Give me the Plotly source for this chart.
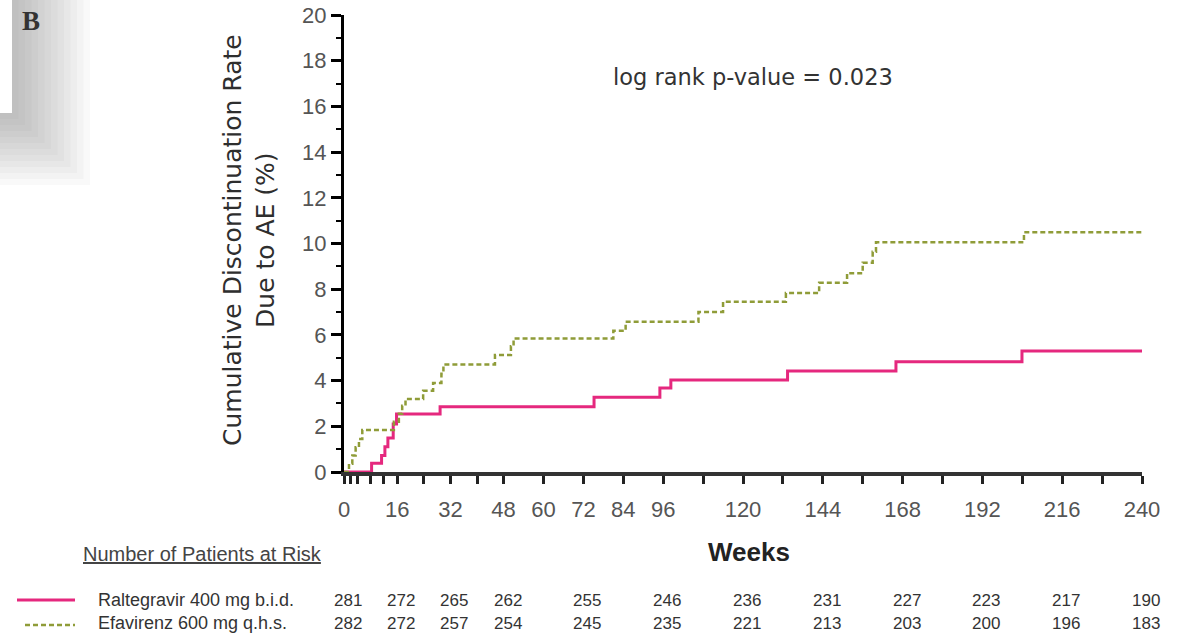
import plotly.graph_objects as go

# ---------------- data ----------------
ral_weeks = [0, 8.3, 11.3, 12.3, 13.2, 14.8, 15.8, 28.9, 75.2, 95.0, 98.3, 133.4, 166.0, 203.9, 240]
ral_rate = [0, 0.38, 0.72, 1.1, 1.49, 2.1, 2.54, 2.86, 3.27, 3.68, 4.03, 4.42, 4.83, 5.3, 5.3]

efv_weeks = [0, 1.5, 2.5, 3.5, 4.5, 5.5, 15.0, 16.5, 17.5, 18.5, 23.8, 26.8, 29.3, 29.9,
             45.4, 50.2, 51.0, 81.0, 84.7, 106.6, 114.0, 132.9, 142.9, 151.3, 156.0,
             159.0, 160.0, 204.5, 240]
efv_rate = [0, 0.36, 0.72, 1.08, 1.44, 1.84, 2.2, 2.55, 2.9, 3.2, 3.56, 3.9, 4.3, 4.71,
            5.12, 5.5, 5.84, 6.18, 6.58, 7.0, 7.45, 7.83, 8.28, 8.7, 9.16,
            9.64, 10.05, 10.49, 10.49]

x_tick_marks = [0, 2, 4, 8, 12, 16, 24, 32, 40, 48, 60, 72, 84, 96, 108, 120, 132, 144,
                156, 168, 180, 192, 204, 216, 228, 240]
x_tick_labels = [0, 16, 32, 48, 60, 72, 84, 96, 120, 144, 168, 192, 216, 240]
y_tick_vals = [0, 2, 4, 6, 8, 10, 12, 14, 16, 18, 20]

risk_weeks = [0, 16, 32, 48, 72, 96, 120, 144, 168, 192, 216, 240]
risk_ral = [281, 272, 265, 262, 255, 246, 236, 231, 227, 223, 217, 190]
risk_efv = [282, 272, 257, 254, 245, 235, 221, 213, 203, 200, 196, 183]

ral_name = "Raltegravir 400 mg b.i.d."
efv_name = "Efavirenz 600 mg q.h.s."

# ---------------- layout geometry ----------------
W, H = 1179, 634
L, R, T, B = 344, 37, 15, 162
PW = W - L - R
PH = H - T - B


def px(X):
    return (X - L) / PW


def py(Y):
    return (H - B - Y) / PH


PINK = "#e5287e"
OLIVE = "#8f9c38"

fig = go.Figure()
fig.add_trace(go.Scatter(x=ral_weeks, y=ral_rate, mode="lines", line_shape="hv",
                         line=dict(color=PINK, width=3), name=ral_name,
                         showlegend=False, cliponaxis=False))
fig.add_trace(go.Scatter(x=efv_weeks, y=efv_rate, mode="lines", line_shape="hv",
                         line=dict(color=OLIVE, width=2.5, dash="5px,3px"), name=efv_name,
                         showlegend=False, cliponaxis=False))

shapes = []
# scan shadow at the top-left corner
n = 12
for k in range(n, 0, -1):
    shapes.append(dict(type="rect", xref="paper", yref="paper",
                       x0=px(0), x1=px(12 + 6.5 * k), y0=py(0), y1=py(113 + 6.0 * k),
                       line=dict(width=0), fillcolor="rgba(90,90,90,0.04)", layer="below"))
shapes.append(dict(type="rect", xref="paper", yref="paper",
                   x0=px(0), x1=px(12), y0=py(0), y1=py(113),
                   line=dict(width=0), fillcolor="white", layer="below"))
# at-risk table legend lines
shapes.append(dict(type="line", xref="paper", yref="paper",
                   x0=px(17), x1=px(75), y0=py(600), y1=py(600),
                   line=dict(color=PINK, width=3)))
shapes.append(dict(type="line", xref="paper", yref="paper",
                   x0=px(25), x1=px(75), y0=py(625), y1=py(625),
                   line=dict(color=OLIVE, width=2.5, dash="5px,3px")))

ann = []
ann.append(dict(text="<b>B</b>", xref="paper", yref="paper", x=px(31), y=py(21),
                xanchor="center", yanchor="middle", showarrow=False,
                font=dict(family="Liberation Serif, Times New Roman, serif", size=27, color="#333")))
ann.append(dict(text="Cumulative Discontinuation Rate<br>Due to AE (%)", xref="paper", yref="paper",
                x=px(249), y=py(240), xanchor="center", yanchor="middle", textangle=-90,
                showarrow=False,
                font=dict(family="DejaVu Sans, sans-serif", size=25, color="#2e2e2e")))
ann.append(dict(text="log rank p-value = 0.023", xref="paper", yref="paper",
                x=px(753), y=py(77), xanchor="center", yanchor="middle", showarrow=False,
                font=dict(family="DejaVu Sans, sans-serif", size=22.5, color="#333")))
ann.append(dict(text="<b>Weeks</b>", xref="paper", yref="paper",
                x=px(749), y=py(552), xanchor="center", yanchor="middle", showarrow=False,
                font=dict(family="Liberation Sans, Arial, sans-serif", size=26, color="#222")))
ann.append(dict(text="<u>Number of Patients at Risk</u>", xref="paper", yref="paper",
                x=px(202), y=py(554), xanchor="center", yanchor="middle", showarrow=False,
                font=dict(family="Liberation Sans, Arial, sans-serif", size=20, color="#444")))
ann.append(dict(text=ral_name, xref="paper", yref="paper",
                x=px(96), y=py(600), xanchor="left", yanchor="middle", showarrow=False,
                font=dict(family="Liberation Sans, Arial, sans-serif", size=18, color="#333")))
ann.append(dict(text=efv_name, xref="paper", yref="paper",
                x=px(96), y=py(623), xanchor="left", yanchor="middle", showarrow=False,
                font=dict(family="Liberation Sans, Arial, sans-serif", size=18, color="#333")))
for wk, a, b in zip(risk_weeks, risk_ral, risk_efv):
    ann.append(dict(text=str(a), xref="x", yref="paper", x=wk, xshift=4, y=py(600),
                    xanchor="center", yanchor="middle", showarrow=False,
                    font=dict(family="Liberation Sans, Arial, sans-serif", size=17, color="#333")))
    ann.append(dict(text=str(b), xref="x", yref="paper", x=wk, xshift=4, y=py(623),
                    xanchor="center", yanchor="middle", showarrow=False,
                    font=dict(family="Liberation Sans, Arial, sans-serif", size=17, color="#333")))

fig.update_layout(
    width=W, height=H, margin=dict(l=L, r=R, t=T, b=B, autoexpand=False),
    paper_bgcolor="white", plot_bgcolor="white",
    shapes=shapes, annotations=ann,
    xaxis=dict(range=[0, 240], showgrid=False, zeroline=False, automargin=False,
               showline=True, linewidth=4, linecolor="#333", layer="below traces",
               ticks="outside", ticklen=8, tickwidth=3, tickcolor="#222",
               tickmode="array", tickvals=x_tick_marks,
               ticktext=[str(v) if v in x_tick_labels else "" for v in x_tick_marks],
               tickfont=dict(family="Liberation Sans, Arial, sans-serif", size=22, color="#555"),
               ticklabelstandoff=7),
    yaxis=dict(range=[0, 20], showgrid=False, zeroline=False, automargin=False,
               showline=True, linewidth=3, linecolor="black",
               ticks="outside", ticklen=10, tickwidth=2.5, tickcolor="black",
               tickmode="array", tickvals=y_tick_vals,
               minor=dict(dtick=1, ticks="outside", ticklen=5, tickwidth=2, tickcolor="black"),
               tickfont=dict(family="Liberation Sans, Arial, sans-serif", size=22, color="#555")),
)

fig.write_html("out.html")
